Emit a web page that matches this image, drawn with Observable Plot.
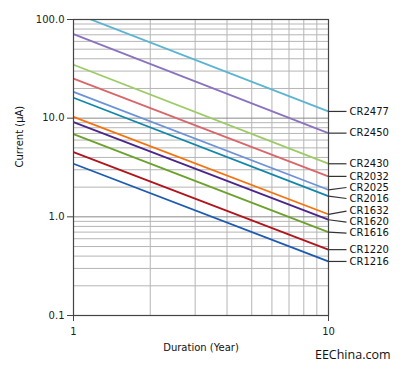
<!DOCTYPE html>
<html>
<head>
<meta charset="utf-8">
<script src="https://cdn.jsdelivr.net/npm/d3@7"></script>
<script src="https://cdn.jsdelivr.net/npm/@observablehq/plot@0.6"></script>
<style>
  html, body { margin: 0; padding: 0; background: #fff; }
  #chart svg { display: block; }
</style>
</head>
<body>
<div id="chart"></div>
<script>
// ---- data ----
const names = ["CR2477","CR2450","CR2430","CR2032","CR2025","CR2016","CR1632","CR1620","CR1616","CR1220","CR1216"];
const startValues = [117, 71, 34.8, 25.2, 18.5, 16.1, 10.3, 9.12, 6.88, 4.53, 3.45];   // current (µA) at 1 year
const endValues = [11.7, 7.05, 3.45, 2.57, 1.88, 1.62, 1.06, 0.934, 0.70, 0.465, 0.353]; // current (µA) at 10 years
const colors = ["#5ab4d2","#8b72be","#9ccb65","#d9666b","#6d93d8","#1387ab","#f5730f","#4a2688","#6ba12d","#b0141c","#1d5bb0"];
const durations = [1, 10];
const xTicks = [1, 10];
const yTicks = [0.1, 1, 10, 100];
const xGrid = [2, 3, 4, 5, 6, 7, 8, 9];
const yGridMinor = [0.2,0.3,0.4,0.5,0.6,0.7,0.8,0.9, 2,3,4,5,6,7,8,9, 20,30,40,50,60,70,80,90];
const yGridMajor = [1, 10];

// ---- layout ----
const W = 400, H = 369;
const mL = 73, mR = 72, mT = 19, mB = 54;
const font = "DejaVu Sans, Verdana, sans-serif";

const rows = [];
names.forEach((n, i) => {
  rows.push({name: n, t: durations[0], v: startValues[i]});
  rows.push({name: n, t: durations[1], v: endValues[i]});
});

// standalone scales matching the chart for label placement
const xS = Plot.scale({x: {type: "log", domain: [1, 10], range: [mL, W - mR]}});
const yS = Plot.scale({y: {type: "log", domain: [0.1, 100], range: [H - mB, mT]}});

// simple label de-overlap in pixel space
const labels = names.map((n, i) => ({name: n, end: endValues[i], py: yS.apply(endValues[i])}));
const sorted = labels.slice().sort((a, b) => a.py - b.py);
const gap = 11;
for (let k = 0; k < 100; k++) {
  for (let j = 1; j < sorted.length; j++) {
    const a = sorted[j - 1], b = sorted[j];
    const d = b.py - a.py;
    if (d < gap) {
      const s = (gap - d) / 2;
      a.py -= s; b.py += s;
    }
  }
}
labels.forEach(l => { l.ly = yS.invert(l.py); });
const xLeader = xS.invert(W - mR + 18);
const xLabel = xS.invert(W - mR + 21);
labels.forEach(l => { l.x1 = 10; l.x2 = xLeader; l.xl = xLabel; });

const chart = Plot.plot({
  width: W, height: H,
  marginLeft: mL, marginRight: mR, marginTop: mT, marginBottom: mB,
  style: {fontFamily: font, fontSize: "10px", color: "#222", background: "#fff"},
  x: {type: "log", domain: [1, 10]},
  y: {type: "log", domain: [0.1, 100]},
  color: {domain: names, range: colors},
  marks: [
    Plot.ruleX(xGrid, {stroke: "#b5b5b5", strokeWidth: 1}),
    Plot.ruleY(yGridMinor, {stroke: "#b5b5b5", strokeWidth: 1}),
    Plot.ruleY(yGridMajor, {stroke: "#8a8a8a", strokeWidth: 1}),
    Plot.line(rows, {x: "t", y: "v", z: "name", stroke: "name", strokeWidth: 1.8, clip: true}),
    Plot.frame({stroke: "#444", strokeWidth: 1.2}),
    Plot.axisY({ticks: yTicks, tickFormat: d => d.toFixed(1), tickSize: 6, tickPadding: 3, fontSize: 10, label: null, stroke: "#444"}),
    Plot.axisX({ticks: xTicks, tickFormat: d => String(d), tickSize: 6, tickPadding: 6, fontSize: 10, label: null, stroke: "#444"}),
    Plot.link(labels, {x1: "x1", y1: "end", x2: "x2", y2: "ly", stroke: "#333", strokeWidth: 1.2}),
    Plot.text(labels, {x: "xl", y: "ly", text: "name", textAnchor: "start", fontSize: 10, fill: "#111"}),
    Plot.text(["Current (μA)"], {frameAnchor: "left", rotate: -90, dx: -54, fontSize: 10, fill: "#111"}),
    Plot.text(["Duration (Year)"], {frameAnchor: "bottom", dy: 35, fontSize: 10, fill: "#111"}),
    Plot.text(["EEChina.com"], {frameAnchor: "bottom-right", textAnchor: "end", dx: 62, dy: 43, fontSize: 12.5, fontFamily: "Open Sans, sans-serif", fill: "#111"})
  ]
});
document.getElementById("chart").appendChild(chart);
</script>
</body>
</html>
